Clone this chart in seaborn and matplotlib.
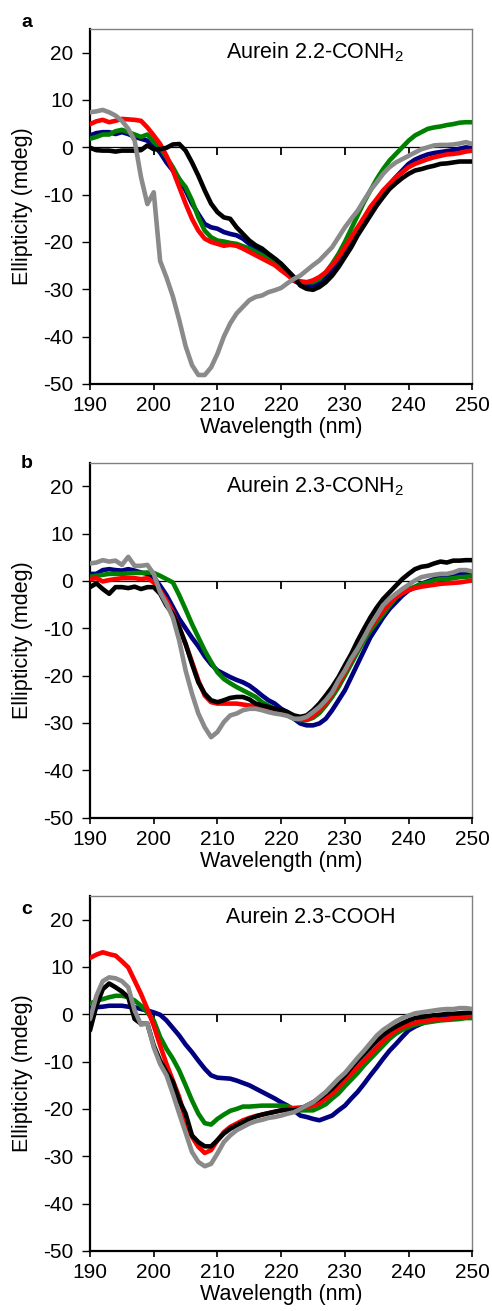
import numpy as np
import pandas as pd
import matplotlib
matplotlib.use("Agg")
import matplotlib.pyplot as plt
import seaborn as sns

# ---------------- data ----------------
wavelength = list(range(190, 251))

a_blue = [2.5, 3.0, 3.2, 3.2, 2.8, 3.2, 2.8, 2.2, 1.8, 1.4,
          0.4, -1.1, -3.2, -4.9, -6.7, -9.1, -11.9, -14.1, -16.2, -16.9,
          -17.2, -17.9, -18.3, -18.6, -19.3, -20.4, -21.4, -22.5, -23.5, -24.6,
          -25.6, -26.7, -28.2, -28.8, -29.2, -29.2, -28.7, -27.6, -26.1, -24.3,
          -22.3, -20.1, -17.9, -15.7, -13.6, -11.6, -9.6, -7.9, -6.3, -4.9,
          -3.5, -2.6, -2.0, -1.5, -1.2, -1.0, -0.8, -0.6, -0.3, 0.0, -0.2]
a_green = [1.8, 2.2, 2.7, 2.7, 3.4, 3.7, 3.2, 2.7, 2.2, 2.7,
           1.1, -0.1, -2.1, -4.2, -6.7, -8.4, -11.2, -14.8, -17.6, -19.0,
           -19.7, -19.9, -20.2, -20.4, -20.9, -21.4, -22.1, -22.8, -23.7, -24.5,
           -25.3, -26.4, -27.8, -28.3, -28.5, -28.5, -27.8, -26.4, -24.6, -22.5,
           -20.0, -17.2, -14.4, -11.6, -9.1, -6.7, -4.6, -2.8, -1.4, 0.0,
           1.4, 2.5, 3.2, 3.9, 4.2, 4.4, 4.7, 4.9, 5.2, 5.3, 5.3]
a_red = [4.9, 5.5, 5.8, 5.3, 5.6, 6.0, 5.9, 5.8, 5.6, 4.2,
         2.5, 0.7, -1.8, -4.9, -8.4, -11.9, -15.1, -17.6, -19.3, -20.0,
         -20.4, -20.8, -20.6, -20.8, -21.4, -22.1, -22.8, -23.5, -24.2, -24.9,
         -26.0, -27.0, -28.1, -28.5, -28.5, -28.1, -27.4, -26.4, -24.9, -23.2,
         -21.1, -19.0, -16.9, -14.8, -12.6, -10.9, -9.1, -7.7, -6.3, -5.3,
         -4.2, -3.5, -3.0, -2.5, -2.1, -1.8, -1.5, -1.4, -1.2, -0.9, -0.7]
a_black = [-0.1, -0.6, -0.7, -0.7, -0.9, -0.7, -0.7, -0.7, -0.6, 0.4,
           -0.4, -0.4, -0.1, 0.6, 0.7, -0.7, -3.2, -6.0, -9.1, -11.9,
           -13.7, -14.8, -15.1, -16.9, -18.3, -19.7, -20.7, -21.4, -22.5, -23.5,
           -24.6, -26.0, -27.4, -29.2, -29.9, -30.1, -29.5, -28.5, -27.1, -25.3,
           -23.2, -21.1, -18.6, -16.5, -14.4, -12.3, -10.5, -8.8, -7.6, -6.5,
           -5.6, -4.9, -4.6, -4.2, -3.9, -3.5, -3.4, -3.2, -3.0, -3.0, -3.0]
a_gray = [7.4, 7.6, 7.9, 7.4, 6.7, 5.6, 3.9, 1.4, -6.3, -12.0,
          -9.5, -24.0, -27.5, -31.5, -36.5, -42.0, -46.0, -48.1, -48.1, -46.5,
          -43.6, -40.0, -37.2, -35.1, -33.7, -32.3, -31.6, -31.3, -30.6, -30.2,
          -29.7, -28.7, -27.8, -27.1, -26.0, -24.9, -23.9, -22.5, -21.1, -19.0,
          -16.9, -15.1, -13.4, -11.2, -9.1, -7.4, -5.6, -4.2, -3.2, -2.5,
          -1.8, -1.1, -0.4, 0.0, 0.4, 0.5, 0.5, 0.6, 0.8, 1.1, 0.7]

b_blue = [1.5, 1.5, 2.3, 2.5, 2.3, 2.2, 2.5, 2.2, 1.8, 1.5,
          0.8, -1.0, -3.0, -5.5, -8.0, -10.0, -12.0, -13.8, -15.9, -17.6,
          -18.9, -19.6, -20.3, -20.9, -21.4, -22.1, -23.1, -24.2, -25.2, -25.9,
          -27.0, -27.7, -29.1, -30.1, -30.5, -30.5, -30.1, -29.1, -27.3, -25.2,
          -23.1, -20.3, -17.5, -14.7, -11.9, -9.8, -7.7, -5.9, -4.5, -3.1,
          -2.0, -1.3, -0.6, -0.1, 0.4, 0.8, 0.9, 1.1, 1.5, 1.5, 1.3]
b_green = [0.9, 1.1, 1.3, 1.5, 1.5, 1.5, 1.6, 1.7, 1.7, 1.8,
           1.7, 1.1, 0.4, -0.3, -3.0, -6.0, -9.1, -11.9, -14.7, -17.1,
           -19.3, -20.7, -21.6, -22.4, -23.1, -23.8, -24.5, -25.6, -26.3, -27.0,
           -27.7, -28.4, -29.1, -29.4, -29.4, -28.9, -27.9, -26.3, -24.5, -22.4,
           -20.0, -17.5, -15.0, -12.6, -10.5, -8.7, -7.0, -5.2, -3.6, -2.4,
           -1.7, -1.2, -0.6, -0.3, 0.1, 0.4, 0.4, 0.6, 0.8, 0.9, 1.0]
b_red = [0.4, 0.6, -0.1, 0.2, 0.4, 0.6, 0.6, 0.6, 0.4, 0.6,
         -0.3, -2.0, -4.1, -6.6, -9.8, -13.3, -17.1, -21.0, -24.2, -25.6,
         -25.9, -25.9, -25.9, -25.9, -26.1, -26.3, -26.3, -26.5, -26.8, -27.2,
         -27.7, -28.0, -28.7, -29.3, -29.3, -28.6, -27.3, -25.9, -23.8, -21.7,
         -19.3, -16.8, -14.3, -11.9, -9.8, -8.0, -6.3, -4.8, -3.4, -2.6,
         -1.9, -1.5, -1.2, -1.0, -0.8, -0.6, -0.5, -0.4, -0.3, -0.1, 0.1]
b_black = [-1.3, -0.5, -1.7, -2.7, -1.3, -1.3, -1.5, -1.2, -1.7, -1.3,
           -1.3, -2.7, -5.2, -7.0, -9.8, -13.3, -17.5, -21.4, -23.8, -25.2,
           -25.6, -25.2, -24.7, -24.5, -24.5, -25.0, -25.9, -26.3, -26.6, -27.0,
           -27.3, -27.7, -28.4, -28.7, -28.4, -27.3, -25.9, -24.2, -22.4, -20.3,
           -17.8, -15.4, -12.6, -10.1, -7.7, -5.6, -3.8, -2.4, -1.0, 0.4,
           1.5, 2.5, 3.0, 3.2, 3.7, 4.1, 3.9, 4.3, 4.3, 4.4, 4.4]
b_gray = [3.7, 3.9, 4.4, 4.1, 4.3, 3.4, 5.1, 3.2, 3.2, 3.4,
          1.5, -2.4, -4.8, -7.7, -12.6, -18.9, -23.8, -28.0, -30.9, -33.0,
          -31.9, -29.8, -28.4, -28.0, -27.3, -27.0, -27.0, -27.3, -27.7, -28.0,
          -28.2, -28.5, -29.1, -29.1, -28.7, -27.7, -26.6, -25.2, -23.5, -21.0,
          -18.9, -16.4, -14.3, -11.9, -9.4, -7.3, -5.1, -3.8, -2.7, -1.7,
          -0.8, 0.1, 0.8, 1.1, 1.3, 1.5, 1.5, 1.8, 2.3, 2.3, 2.0]

c_blue = [1.1, 1.5, 1.6, 1.8, 1.8, 1.8, 1.6, 1.5, 1.1, 0.8,
          0.4, -0.1, -1.3, -2.9, -4.5, -6.4, -8.0, -9.8, -11.5, -12.9,
          -13.4, -13.5, -13.6, -14.0, -14.5, -15.0, -15.7, -16.4, -17.1, -17.8,
          -18.6, -19.3, -20.3, -21.4, -21.7, -22.1, -22.4, -21.9, -21.4, -20.3,
          -19.3, -17.8, -16.4, -14.7, -12.9, -11.2, -9.4, -7.7, -6.3, -4.8,
          -3.4, -2.6, -2.0, -1.5, -1.2, -1.0, -0.7, -0.4, -0.2, 0.0, 0.1]
c_green = [2.2, 2.9, 3.2, 3.6, 3.9, 3.9, 3.6, 2.9, 1.8, 0.4,
           -1.3, -4.8, -7.3, -9.4, -11.9, -15.0, -18.2, -21.0, -23.0, -23.3,
           -22.1, -21.2, -20.4, -20.0, -19.5, -19.5, -19.4, -19.3, -19.3, -19.3,
           -19.3, -19.4, -20.0, -20.3, -20.3, -20.3, -19.7, -19.0, -17.8, -16.7,
           -15.2, -13.8, -12.4, -10.8, -9.4, -8.0, -6.6, -5.2, -4.1, -3.3,
           -2.7, -2.2, -1.9, -1.7, -1.5, -1.3, -1.2, -1.1, -1.0, -0.8, -0.8]
c_red = [11.9, 12.6, 13.1, 12.7, 12.4, 11.2, 9.9, 7.1, 4.3, 1.1,
         -2.4, -6.6, -10.5, -14.0, -17.5, -22.5, -25.9, -28.0, -29.3, -28.7,
         -26.6, -24.9, -23.8, -23.1, -22.4, -21.9, -21.5, -21.2, -20.9, -20.6,
         -20.3, -20.0, -19.8, -19.7, -19.6, -19.3, -18.8, -17.8, -16.8, -15.4,
         -14.0, -12.6, -11.2, -9.8, -8.4, -7.0, -5.6, -4.5, -3.4, -2.7,
         -2.2, -1.8, -1.5, -1.3, -1.2, -1.1, -1.0, -0.8, -0.6, -0.5, -0.3]
c_black = [-3.4, 1.8, 5.3, 6.5, 5.7, 4.8, 3.6, -1.0, -2.0, -2.0,
           -6.6, -9.8, -12.2, -14.3, -18.2, -21.0, -25.6, -27.0, -27.9, -27.9,
           -26.6, -25.2, -24.2, -23.5, -22.8, -22.1, -21.6, -21.2, -20.9, -20.6,
           -20.3, -20.2, -20.3, -20.0, -19.3, -18.6, -17.8, -16.8, -15.7, -14.3,
           -12.9, -11.3, -9.8, -8.4, -7.0, -5.6, -4.4, -3.4, -2.6, -1.9,
           -1.3, -0.8, -0.6, -0.4, -0.2, -0.1, 0.1, 0.1, 0.2, 0.3, 0.4]
c_gray = [-1.0, 3.9, 7.0, 7.8, 7.6, 7.0, 5.7, 0.8, -2.2, -1.9,
          -7.0, -10.5, -12.9, -16.8, -21.0, -25.0, -29.1, -31.2, -32.1, -31.6,
          -29.4, -27.0, -25.6, -24.5, -23.8, -23.1, -22.6, -22.3, -21.9, -21.7,
          -21.4, -21.0, -20.7, -20.0, -19.3, -18.6, -17.5, -16.4, -15.0, -13.6,
          -12.4, -10.8, -9.2, -7.7, -6.1, -4.5, -3.3, -2.4, -1.5, -0.8,
          -0.3, 0.2, 0.4, 0.6, 0.8, 1.0, 1.1, 1.1, 1.3, 1.3, 1.1]

series_names = ["blue", "green", "red", "black", "gray"]
panel_letters = ["a", "b", "c"]
panel_titles = ["Aurein 2.2-CONH$_2$", "Aurein 2.3-CONH$_2$", "Aurein 2.3-COOH"]
panel_data = [
    [a_blue, a_green, a_red, a_black, a_gray],
    [b_blue, b_green, b_red, b_black, b_gray],
    [c_blue, c_green, c_red, c_black, c_gray],
]
x_ticks = [190, 200, 210, 220, 230, 240, 250]
y_ticks = [-50, -40, -30, -20, -10, 0, 10, 20]
zero_ticks = [200, 210, 220, 230, 240]
zero_tick_depth = -1.7   # length of the small marks under the zero line (mdeg)

palette = {"blue": "#000080", "green": "#008000", "red": "#ff0000",
           "black": "#000000", "gray": "#8a8a8a"}

# ---------------- style ----------------
sns.set_theme(style="ticks")
plt.rcParams["font.family"] = ["Liberation Sans", "DejaVu Sans"]
plt.rcParams["mathtext.fontset"] = "custom"
plt.rcParams["mathtext.rm"] = "Liberation Sans"
plt.rcParams["mathtext.default"] = "regular"
plt.rcParams["axes.unicode_minus"] = False
plt.rcParams["text.color"] = "black"
plt.rcParams["axes.labelcolor"] = "black"
plt.rcParams["xtick.color"] = "black"
plt.rcParams["ytick.color"] = "black"

fig = plt.figure(figsize=(4.92, 13.11), dpi=100)
fig.patch.set_facecolor("white")

bottoms = [0.7071, 0.3763, 0.0458]
label_y = [0.9825, 0.6468, 0.3066]
title_y = [20.0, 20.0, 20.4]
height = 0.2708

for i in range(3):
    ax = fig.add_axes([0.183, bottoms[i], 0.777, height])
    ax.set_facecolor("white")
    rows = []
    for name, vals in zip(series_names, panel_data[i]):
        for w, v in zip(wavelength, vals):
            rows.append({"Wavelength": w, "Ellipticity": v, "sample": name})
    df = pd.DataFrame(rows)

    sns.lineplot(data=df, x="Wavelength", y="Ellipticity", hue="sample",
                 hue_order=series_names, palette=palette, linewidth=3.3,
                 legend=False, ax=ax, estimator=None, sort=True, zorder=3)

    # zero line with small downward ticks, beneath the curves
    ax.axhline(0, color="black", linewidth=0.9, zorder=2)
    ax.vlines(zero_ticks, zero_tick_depth, 0, colors="black",
              linewidth=1.3, zorder=2)

    ax.set_xlim(190, 250)
    ax.set_ylim(-50, 25)
    ax.set_xticks(x_ticks)
    ax.set_yticks(y_ticks)
    ax.tick_params(axis="x", direction="out", length=4, width=1.2, labelsize=15,
                   pad=5, colors="black")
    ax.tick_params(axis="y", direction="out", length=6, width=1.0, labelsize=15,
                   pad=6, colors="black")
    ax.set_xlabel("Wavelength (nm)", fontsize=15.5, labelpad=1, color="black")
    ax.set_ylabel("Ellipticity (mdeg)", fontsize=15.5, labelpad=7, color="black")
    for s in ["left", "bottom"]:
        ax.spines[s].set_color("black")
        ax.spines[s].set_linewidth(1.6)
    for s in ["top", "right"]:
        ax.spines[s].set_visible(True)
        ax.spines[s].set_color("#808080")
        ax.spines[s].set_linewidth(1.0)
    ax.text(211.3, title_y[i], panel_titles[i], fontsize=15.5, va="center",
            ha="left", color="black")
    fig.text(0.055, label_y[i], panel_letters[i], fontsize=14,
             fontweight="bold", ha="center", va="center", color="black")

fig.savefig("out.png", dpi=100, facecolor="white")
